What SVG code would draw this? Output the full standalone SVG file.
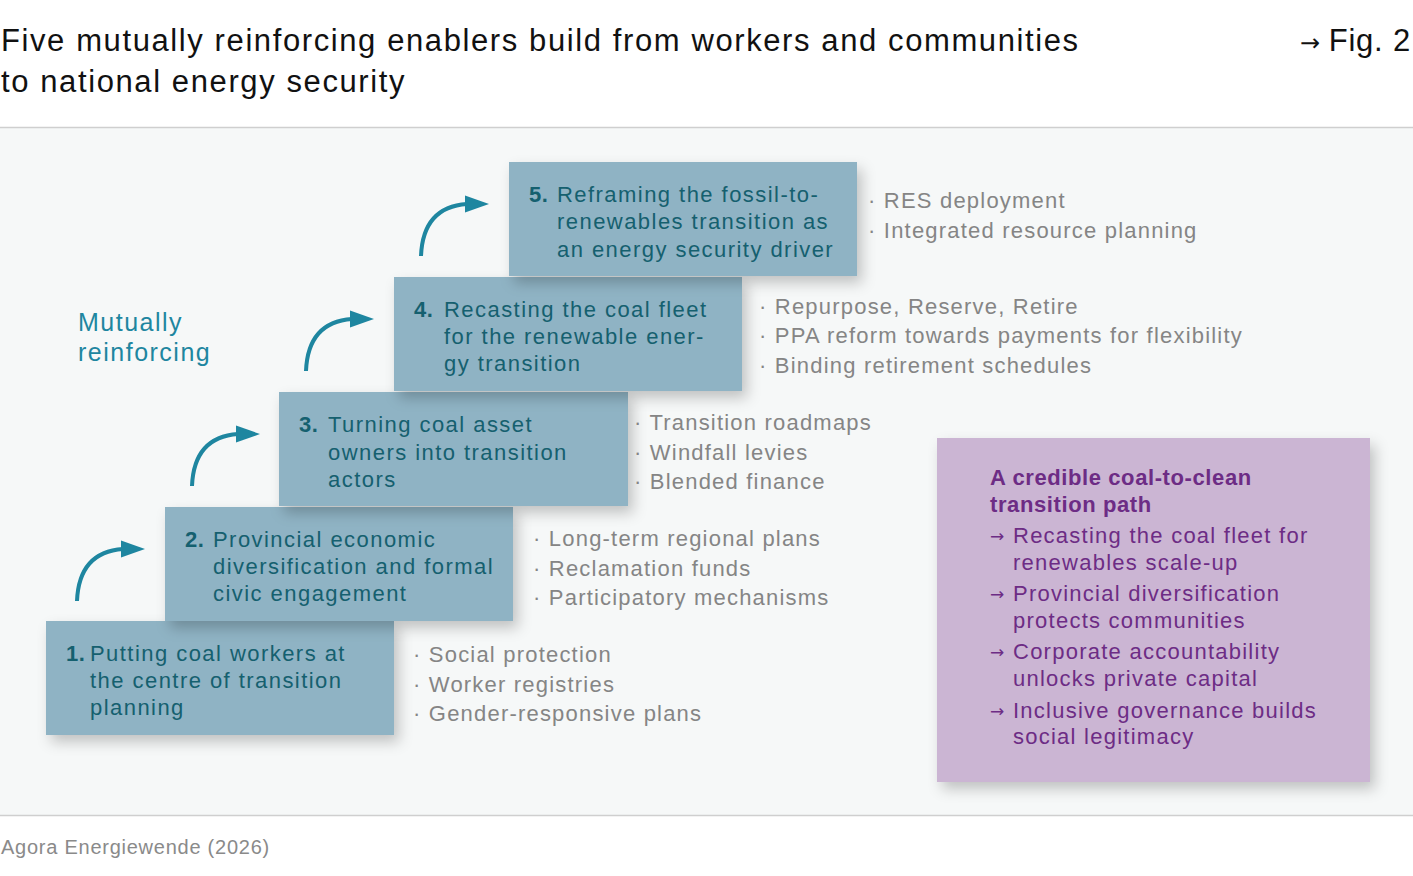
<svg xmlns="http://www.w3.org/2000/svg" width="1413" height="876" viewBox="0 0 1413 876">
<defs>
<style>
text{font-family:"Liberation Sans","Noto Sans",Arial,sans-serif;}
.title{font-size:31px;fill:#111;letter-spacing:1.6px;}
.foot{font-size:20px;fill:#8a8a8a;letter-spacing:0.75px;}
.box{fill:#8fb3c4;}
.bt{font-size:22px;fill:#15606f;letter-spacing:1.45px;}
.num{font-weight:bold;letter-spacing:0.5px;}
.bul{font-size:22px;fill:#858585;letter-spacing:1.2px;}
.mr{font-size:25px;fill:#1e86a0;letter-spacing:1.5px;}
.pbox{fill:#cbb5d3;}
.pt{font-size:22px;fill:#6d2c85;letter-spacing:1.25px;}
.pth{font-weight:bold;letter-spacing:0.6px;}
.ar{font-family:"DejaVu Sans",sans-serif;font-size:17px;letter-spacing:0;}
.tar{font-family:"DejaVu Sans",sans-serif;font-size:24px;fill:#111;}
.arr{fill:none;stroke:#1e86a0;stroke-width:4;}
.ahd{fill:#1e86a0;}
</style>
<filter id="sh" x="-10%" y="-10%" width="130%" height="140%">
<feDropShadow dx="5" dy="7" stdDeviation="7" flood-color="#000" flood-opacity="0.22"/>
</filter>
</defs>
<rect x="0" y="0" width="1413" height="876" fill="#ffffff"/>
<rect x="0" y="128" width="1413" height="687" fill="#f6f8f8"/>
<line x1="0" y1="127.5" x2="1413" y2="127.5" stroke="#cfcfcf" stroke-width="1.5"/>
<line x1="0" y1="815.5" x2="1413" y2="815.5" stroke="#cfcfcf" stroke-width="1.5"/>
<g id="title">
<text class="title" x="1" y="51">Five mutually reinforcing enablers build from workers and communities</text>
<text class="title" x="1" y="92">to national energy security</text>
<text class="tar" x="1300" y="51">→</text>
<text class="title" x="1411" y="51" text-anchor="end" style="letter-spacing:0.8px">Fig. 2</text>
</g>
<text class="foot" x="1" y="854">Agora Energiewende (2026)</text>
<g id="label-mutually">
<text class="mr" x="78" y="331">Mutually</text>
<text class="mr" x="78" y="361">reinforcing</text>
</g>
<g id="step1">
<rect class="box" x="46" y="621" width="348" height="114" filter="url(#sh)"/>
<text class="bt num" x="66" y="661">1.</text>
<text class="bt" x="90" y="661">Putting coal workers at</text>
<text class="bt" x="90" y="688">the centre of transition</text>
<text class="bt" x="90" y="715">planning</text>
<text class="bul" x="413" y="662">· Social protection</text>
<text class="bul" x="413" y="692">· Worker registries</text>
<text class="bul" x="413" y="721">· Gender-responsive plans</text>
</g>
<g id="step2">
<rect class="box" x="165" y="507" width="348" height="114" filter="url(#sh)"/>
<text class="bt num" x="185" y="547">2.</text>
<text class="bt" x="213" y="547">Provincial economic</text>
<text class="bt" x="213" y="574">diversification and formal</text>
<text class="bt" x="213" y="601">civic engagement</text>
<text class="bul" x="533" y="546">· Long-term regional plans</text>
<text class="bul" x="533" y="576">· Reclamation funds</text>
<text class="bul" x="533" y="605">· Participatory mechanisms</text>
</g>
<g id="step3">
<rect class="box" x="279" y="392" width="349" height="114" filter="url(#sh)"/>
<text class="bt num" x="299" y="432">3.</text>
<text class="bt" x="328" y="432">Turning coal asset</text>
<text class="bt" x="328" y="460">owners into transition</text>
<text class="bt" x="328" y="487">actors</text>
<text class="bul" x="634" y="430">· Transition roadmaps</text>
<text class="bul" x="634" y="460">· Windfall levies</text>
<text class="bul" x="634" y="489">· Blended finance</text>
</g>
<g id="step4">
<rect class="box" x="394" y="277" width="348" height="114" filter="url(#sh)"/>
<text class="bt num" x="414" y="317">4.</text>
<text class="bt" x="444" y="317">Recasting the coal fleet</text>
<text class="bt" x="444" y="344">for the renewable ener-</text>
<text class="bt" x="444" y="371">gy transition</text>
<text class="bul" x="759" y="314">· Repurpose, Reserve, Retire</text>
<text class="bul" x="759" y="343">· PPA reform towards payments for flexibility</text>
<text class="bul" x="759" y="373">· Binding retirement schedules</text>
</g>
<g id="step5">
<rect class="box" x="509" y="162" width="348" height="114" filter="url(#sh)"/>
<text class="bt num" x="529" y="202">5.</text>
<text class="bt" x="557" y="202">Reframing the fossil-to-</text>
<text class="bt" x="557" y="229">renewables transition as</text>
<text class="bt" x="557" y="257">an energy security driver</text>
<text class="bul" x="868" y="208">· RES deployment</text>
<text class="bul" x="868" y="238">· Integrated resource planning</text>
</g>
<g id="connectors">
<path class="arr" d="M77,601 Q79,552 123,549"/>
<polygon class="ahd" points="145,549 121,540.5 121,557.5"/>
<path class="arr" d="M192,486 Q194,437 238,434"/>
<polygon class="ahd" points="260,434 236,425.5 236,442.5"/>
<path class="arr" d="M306,371 Q308,322 352,319"/>
<polygon class="ahd" points="374,319 350,310.5 350,327.5"/>
<path class="arr" d="M421,256 Q423,207 467,204"/>
<polygon class="ahd" points="489,204 465,195.5 465,212.5"/>
</g>
<g id="summary">
<rect class="pbox" x="937" y="438" width="433" height="344" filter="url(#sh)"/>
<text class="pt pth" x="990" y="485">A credible coal-to-clean</text>
<text class="pt pth" x="990" y="512">transition path</text>
<text class="pt ar" x="990" y="542">→</text>
<text class="pt" x="1013" y="543">Recasting the coal fleet for</text>
<text class="pt" x="1013" y="570">renewables scale-up</text>
<text class="pt ar" x="990" y="600">→</text>
<text class="pt" x="1013" y="601">Provincial diversification</text>
<text class="pt" x="1013" y="628">protects communities</text>
<text class="pt ar" x="990" y="658">→</text>
<text class="pt" x="1013" y="659">Corporate accountability</text>
<text class="pt" x="1013" y="686">unlocks private capital</text>
<text class="pt ar" x="990" y="717">→</text>
<text class="pt" x="1013" y="718">Inclusive governance builds</text>
<text class="pt" x="1013" y="744">social legitimacy</text>
</g>
</svg>
